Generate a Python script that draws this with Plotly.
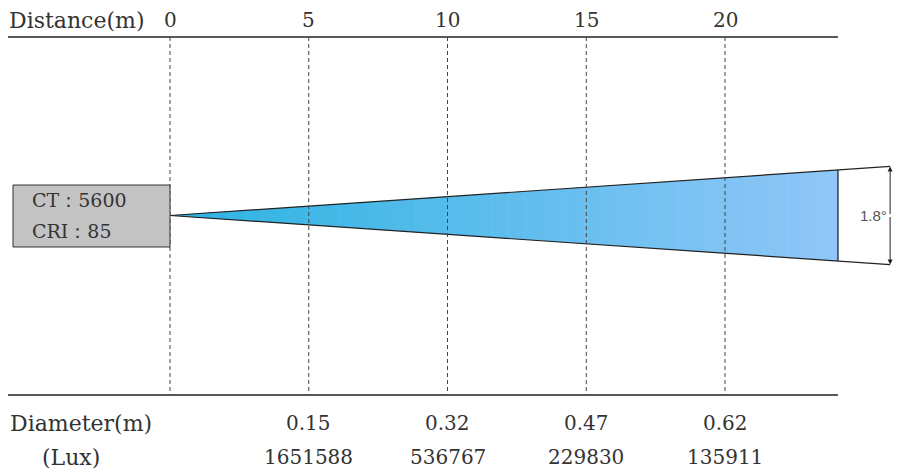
import numpy as np
import plotly.graph_objects as go

# distances shown on the top scale (m)
distances = [0, 5, 10, 15, 20]
# values under each distance tick
spot_distances = [5, 10, 15, 20]
diameters = ["0.15", "0.32", "0.47", "0.62"]
lux_values = ["1651588", "536767", "229830", "135911"]

beam_angle = "1.8°"
ct_value = 5600
cri_value = 85
beam_end = 24.07      # m, where the coloured beam stops
bracket_at = 25.95    # m, where the angle bracket sits

# drawing geometry (vertical units are page pixels from the top)
# the page body has an 8px margin, so the figure is 8px smaller each way
page_margin = 8
px_per_m = 27.75
zero_px = 170
x_lo = (page_margin - zero_px) / px_per_m
x_hi = (915 - zero_px) / px_per_m
axis_y = 215.5
spread = 1.89         # visual half-spread of the beam, px per metre
top_rule, bottom_rule = 37, 395
rule_x0, rule_x1 = (8 - zero_px) / px_per_m, beam_end


def mx(px):
    return (px - zero_px) / px_per_m


FONT = "DejaVu Serif"
TXT = "#333333"

fig = go.Figure()
shapes = []

# beam with gradient fill, built from thin slices
c0 = np.array([0x2c, 0xb4, 0xe2])
c1 = np.array([0x90, 0xc6, 0xf8])
edges = np.linspace(0, beam_end, 80)
for i in range(len(edges) - 1):
    a, b = edges[i], edges[i + 1] + 0.02
    t = i / (len(edges) - 2)
    col = c0 + (c1 - c0) * t
    path = (f"M {a},{axis_y - spread * a} L {b},{axis_y - spread * b} "
            f"L {b},{axis_y + spread * b} L {a},{axis_y + spread * a} Z")
    shapes.append(dict(type="path", path=path, xref="x", yref="y",
                       fillcolor=f"rgb({col[0]:.0f},{col[1]:.0f},{col[2]:.0f})",
                       line=dict(width=0), layer="below"))

# top and bottom rules
for yy in (top_rule, bottom_rule):
    shapes.append(dict(type="line", xref="x", yref="y", x0=rule_x0, x1=rule_x1,
                       y0=yy, y1=yy, line=dict(color="#222222", width=1.5)))

# dashed distance guides
for d in distances:
    shapes.append(dict(type="line", xref="x", yref="y", x0=d, x1=d,
                       y0=top_rule, y1=bottom_rule,
                       line=dict(color="#444444", width=1, dash="4px,3px")))

# lamp box
shapes.append(dict(type="rect", xref="x", yref="y", x0=mx(13), x1=0,
                   y0=185, y1=247, fillcolor="#c3c3c3",
                   line=dict(color="#333333", width=1)))

# beam outline
fig.add_trace(go.Scatter(x=[0, bracket_at], y=[axis_y, axis_y - spread * bracket_at],
                         mode="lines", line=dict(color="#222222", width=1.2),
                         hoverinfo="skip"))
fig.add_trace(go.Scatter(x=[0, bracket_at], y=[axis_y, axis_y + spread * bracket_at],
                         mode="lines", line=dict(color="#222222", width=1.2),
                         hoverinfo="skip"))
fig.add_trace(go.Scatter(x=[beam_end, beam_end],
                         y=[axis_y - spread * beam_end, axis_y + spread * beam_end],
                         mode="lines", line=dict(color="#222222", width=1.2),
                         hoverinfo="skip"))

annotations = []
# angle bracket arrows
for sgn in (-1, 1):
    annotations.append(dict(x=bracket_at, y=axis_y + sgn * spread * bracket_at,
                            ax=bracket_at, ay=axis_y, xref="x", yref="y",
                            axref="x", ayref="y", text="", showarrow=True,
                            arrowhead=2, arrowsize=1, arrowwidth=1,
                            arrowcolor="#222222"))
annotations.append(dict(x=bracket_at, y=axis_y, xref="x", yref="y", text=beam_angle,
                        showarrow=False, xanchor="right", xshift=-1,
                        font=dict(family="Liberation Sans", size=15, color="#555555")))

# top scale
annotations.append(dict(x=mx(8), y=20, xref="x", yref="y", text="Distance(m)",
                        showarrow=False, xanchor="left", borderpad=0,
                        font=dict(family=FONT, size=22, color=TXT)))
for d in distances:
    annotations.append(dict(x=d, y=20, xref="x", yref="y", text=str(d),
                            showarrow=False, borderpad=0,
                            font=dict(family=FONT, size=20, color=TXT)))

# bottom table
annotations.append(dict(x=mx(8), y=423, xref="x", yref="y", text="Diameter(m)",
                        showarrow=False, xanchor="left",
                        font=dict(family=FONT, size=22, color=TXT)))
annotations.append(dict(x=mx(40), y=457, xref="x", yref="y", text="(Lux)",
                        showarrow=False, xanchor="left",
                        font=dict(family=FONT, size=22, color=TXT)))
for d, dia, lx in zip(spot_distances, diameters, lux_values):
    annotations.append(dict(x=d, y=423, xref="x", yref="y", text=dia,
                            showarrow=False, font=dict(family=FONT, size=20, color=TXT)))
    annotations.append(dict(x=d, y=457, xref="x", yref="y", text=lx,
                            showarrow=False, font=dict(family=FONT, size=20, color=TXT)))

# lamp text
annotations.append(dict(x=mx(30), y=200, xref="x", yref="y",
                        text=f"CT：{ct_value}", showarrow=False, xanchor="left",
                        font=dict(family=FONT, size=19, color=TXT)))
annotations.append(dict(x=mx(30), y=231, xref="x", yref="y",
                        text=f"CRI：{cri_value}", showarrow=False, xanchor="left",
                        font=dict(family=FONT, size=19, color=TXT)))

fig.update_layout(
    width=915 - page_margin, height=473 - page_margin,
    margin=dict(l=0, r=0, t=0, b=0),
    paper_bgcolor="white", plot_bgcolor="white",
    showlegend=False,
    shapes=shapes,
    annotations=annotations,
    xaxis=dict(range=[x_lo, x_hi], visible=False, fixedrange=True),
    yaxis=dict(range=[473, page_margin], visible=False, fixedrange=True),
)

fig.write_html("out.html")
